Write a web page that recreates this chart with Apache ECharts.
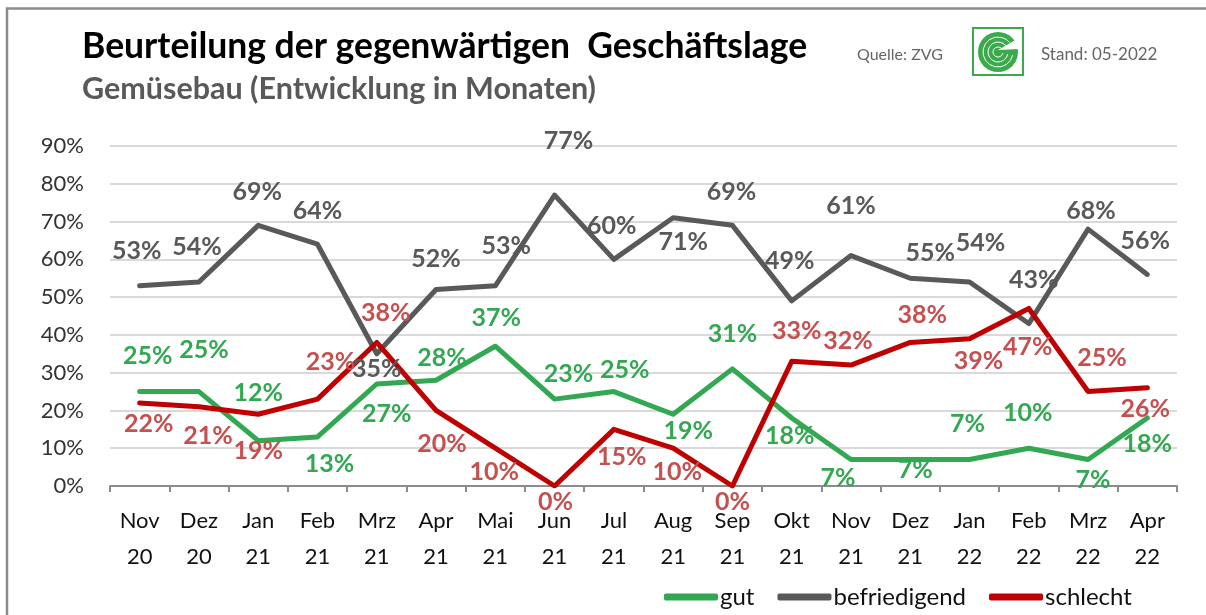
<!DOCTYPE html>
<html>
<head>
<meta charset="utf-8">
<script src="https://cdn.jsdelivr.net/npm/echarts@6/dist/echarts.min.js"></script>
<style>
  html, body { margin: 0; padding: 0; background: #fff; }
  #chart { width: 1206px; height: 615px; }
</style>
</head>
<body>
<div id="chart"></div>
<script>
const months = ['Nov\n20', 'Dez\n20', 'Jan\n21', 'Feb\n21', 'Mrz\n21', 'Apr\n21', 'Mai\n21', 'Jun\n21', 'Jul\n21',
  'Aug\n21', 'Sep\n21', 'Okt\n21', 'Nov\n21', 'Dez\n21', 'Jan\n22', 'Feb\n22', 'Mrz\n22', 'Apr\n22'];

const gut = [25, 25, 12, 13, 27, 28, 37, 23, 25, 19, 31, 18, 7, 7, 7, 10, 7, 18];
const befriedigend = [53, 54, 69, 64, 35, 52, 53, 77, 60, 71, 69, 49, 61, 55, 54, 43, 68, 56];
const schlecht = [22, 21, 19, 23, 38, 20, 10, 0, 15, 10, 0, 33, 32, 38, 39, 47, 25, 26];

// label offsets (px) from each point, as placed in the original
const gutOffsets = [[8, -36], [5, -42], [0, -48], [12, 27], [10, 30], [6, -22], [1, -28], [14, -25], [11, -22],
  [15, 17], [0, -35], [-2, 18], [-13, 18], [5, 10], [-2, -36], [-1, -35], [5, 20], [0, 26]];
const befOffsets = [[-3, -35], [-2, -35], [-1, -33], [0, -33], [0, 15], [0, -31], [11, -40], [14, -54], [-2, -33],
  [10, 24], [-1, -33], [-2, -40], [0, -50], [20, -25], [11, -39], [5, -44], [3, -18], [-2, -34]];
const schOffsets = [[9, 21], [9, 29], [0, 37], [13, -37], [9, -30], [6, 33], [-1, 24], [1, 16], [8, 28],
  [4, 24], [0, 16], [5, -30], [-3, -24], [12, -28], [9, 22], [-1, 38], [14, -34], [-2, 21]];

const FONT = 'Lato, "Noto Sans", sans-serif';

function makeSeries(name, values, offsets, lineColor, labelColor) {
  return {
    name: name,
    type: 'line',
    symbol: 'circle',
    symbolSize: 2,
    itemStyle: { color: lineColor },
    lineStyle: { color: lineColor, width: 5, cap: 'round', join: 'round' },
    label: {
      show: true,
      position: 'inside',
      formatter: '{c}%',
      color: labelColor,
      fontFamily: FONT,
      fontWeight: 'bold',
      fontSize: 25
    },
    emphasis: { disabled: true },
    data: values.map((v, i) => ({ value: v, label: { offset: offsets[i] } }))
  };
}

const chart = echarts.init(document.getElementById('chart'), null, { renderer: 'canvas' });

const option = {
  animation: false,
  backgroundColor: '#fff',
  textStyle: { fontFamily: FONT },
  grid: { left: 110, right: 29, top: 146, bottom: 129 },
  xAxis: {
    type: 'category',
    data: months,
    boundaryGap: true,
    axisLine: { lineStyle: { color: '#8c8c8c', width: 2 } },
    axisTick: { show: true, length: 6, lineStyle: { color: '#8c8c8c', width: 2 } },
    axisLabel: {
      interval: 0,
      margin: 17,
      color: '#111',
      fontSize: 22,
      lineHeight: 36,
      fontFamily: FONT
    }
  },
  yAxis: {
    type: 'value',
    min: 0,
    max: 90,
    interval: 10,
    axisLine: { show: false },
    axisTick: { show: false },
    axisLabel: { formatter: '{value}%', color: '#333', fontSize: 22, margin: 26, fontFamily: FONT },
    splitLine: { lineStyle: { color: '#d9d9d9', width: 2 } }
  },
  legend: {
    left: 659,
    top: 580,
    itemWidth: 54,
    itemHeight: 7,
    itemGap: 23,
    icon: 'roundRect',
    textStyle: { fontSize: 24, color: '#111', fontFamily: FONT, padding: [0, 0, 0, -3] },
    data: ['gut', 'befriedigend', 'schlecht']
  },
  graphic: [
    {
      type: 'rect', silent: true,
      shape: { x: 7, y: 8.5, width: 1400, height: 800 },
      style: { fill: 'none', stroke: '#8c8c8c', lineWidth: 2.5 }
    },
    {
      type: 'text', left: 82, top: 29,
      style: { text: 'Beurteilung der gegenwärtigen  Geschäftslage', fontSize: 35.5, fontWeight: 'bold',
        fontFamily: FONT, fill: '#000' }
    },
    {
      type: 'text', left: 82, top: 74,
      style: { text: 'Gemüsebau (Entwicklung in Monaten)', fontSize: 30.5, fontWeight: 'bold',
        fontFamily: FONT, fill: '#595959' }
    },
    {
      type: 'text', left: 857, top: 47,
      style: { text: 'Quelle: ZVG', fontSize: 16, fontFamily: FONT, fill: '#666' }
    },
    {
      type: 'text', left: 1041, top: 46,
      style: { text: 'Stand: 05-2022', fontSize: 17, fontFamily: FONT, fill: '#666' }
    },
    {
      type: 'group', left: 972, top: 27,
      children: [
        { type: 'rect', shape: { x: 0, y: 0, width: 50, height: 47 },
          style: { fill: '#fff', stroke: '#3aaa4a', lineWidth: 2 } },
        { type: 'circle', shape: { cx: 25, cy: 24, r: 20 }, style: { fill: '#3aaa4a' } },
        { type: 'arc', shape: { cx: 25, cy: 24, r: 15, startAngle: 0.2, endAngle: 5.6 },
          style: { stroke: '#fff', lineWidth: 1, fill: 'none' } },
        { type: 'arc', shape: { cx: 25, cy: 24, r: 10, startAngle: 0.2, endAngle: 5.6 },
          style: { stroke: '#fff', lineWidth: 1, fill: 'none' } },
        { type: 'arc', shape: { cx: 25, cy: 24, r: 5, startAngle: 0.2, endAngle: 5.6 },
          style: { stroke: '#fff', lineWidth: 1, fill: 'none' } },
        { type: 'polygon', shape: { points: [[25, 22], [46, 10], [46, 21]] }, style: { fill: '#fff' } }
      ]
    }
  ],
  series: [
    makeSeries('gut', gut, gutOffsets, '#33a852', '#33a852'),
    makeSeries('befriedigend', befriedigend, befOffsets, '#595959', '#595959'),
    makeSeries('schlecht', schlecht, schOffsets, '#c00000', '#c55050')
  ]
};

chart.setOption(option);
</script>
</body>
</html>
